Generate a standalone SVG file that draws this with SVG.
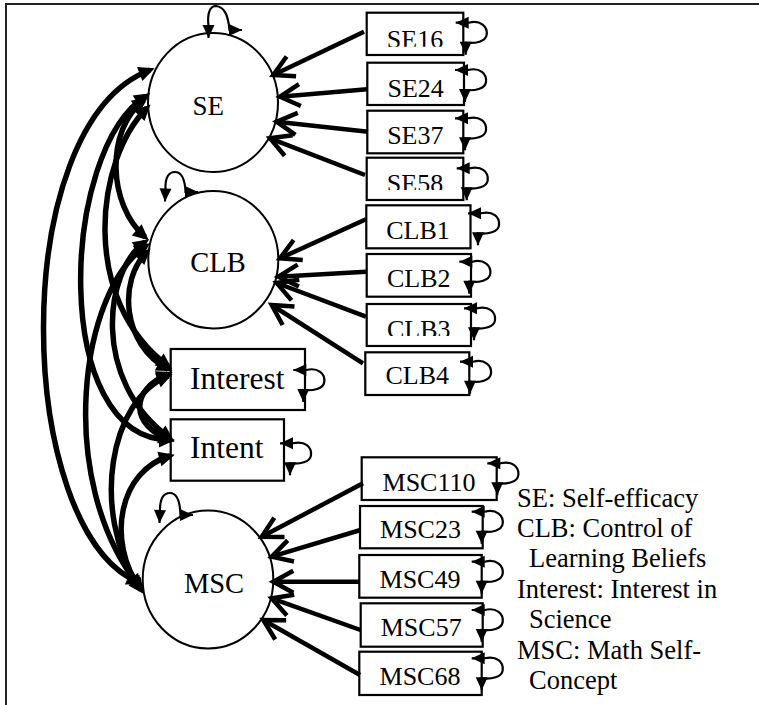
<svg xmlns="http://www.w3.org/2000/svg" width="759" height="705" viewBox="0 0 759 705">
  <style>
    .lat{fill:none;stroke:#000;stroke-width:2}
    .box{fill:#fff;stroke:#000;stroke-width:2.2}
    .txt{font-family:"Liberation Serif","Times New Roman",serif;fill:#000}
    .ind{font-size:26px;text-anchor:middle}
    .load{fill:none;stroke:#000;stroke-width:4.5;marker-end:url(#vhead)}
    .cov{fill:none;stroke:#000;stroke-width:5.5;marker-start:url(#solid);marker-end:url(#solid)}
    .loop{fill:none;stroke:#000;stroke-width:2.2;marker-start:url(#small);marker-end:url(#small)}
    .legend{font-size:26.5px}
    .frame{fill:none;stroke:#222;stroke-width:2}
  </style>
  <defs>
    <!-- open V head for loadings -->
    <marker id="vhead" markerUnits="userSpaceOnUse" markerWidth="30" markerHeight="30" refX="20" refY="11" orient="auto" overflow="visible">
      <path d="M0,0 L20,11 L0,22" fill="none" stroke="#000" stroke-width="4.5"/>
    </marker>
    <!-- solid head for covariances -->
    <marker id="solid" markerUnits="userSpaceOnUse" markerWidth="17" markerHeight="15" refX="11" refY="7.5" orient="auto-start-reverse" overflow="visible">
      <path d="M0,0 L16,7.5 L0,15 z" fill="#000"/>
    </marker>
    <!-- small head for variance loops -->
    <marker id="small" markerUnits="userSpaceOnUse" markerWidth="14" markerHeight="12" refX="13" refY="6" orient="auto-start-reverse" overflow="visible">
      <path d="M0,0 L13,6 L0,12 z" fill="#000"/>
    </marker>
    <!-- error variance loop, origin at the upper arrow tip -->
    <path id="eloop" class="loop" d="M0,0 L13,0 C25,-3 32,4 31,12 C30,19 20,21 10,20 L10,32"/>
    <clipPath id="clipSE16"><rect x="360" y="10" width="110" height="36.7"/></clipPath>
    <clipPath id="clipSE58"><rect x="360" y="155" width="110" height="35"/></clipPath>
    <clipPath id="clipCLB3"><rect x="360" y="300" width="115" height="36"/></clipPath>
  </defs>

  <!-- frame -->
  <path class="frame" d="M5,4 H759 M6,4 V705"/>

  <!-- latent factors -->
  <g id="SE">
    <ellipse class="lat" cx="213" cy="102.5" rx="65" ry="69.5"/>
    <text class="txt" x="208.3" y="115" font-size="27" text-anchor="middle">SE</text>
    <path class="loop" d="M208.5,38 L208.5,26 C207,13 210,6 216,6 C224,7 228,14 229.5,30 L242,30"/>
  </g>
  <g id="CLB">
    <ellipse class="lat" cx="213.3" cy="259.7" rx="65" ry="68.7"/>
    <text class="txt" x="218" y="271.7" font-size="28.5" text-anchor="middle">CLB</text>
    <path class="loop" d="M165,201.5 L165.5,189 C165,177 169,172 175,172 C182,172 185,180 185.5,192 L198,192"/>
  </g>
  <g id="MSC">
    <ellipse class="lat" cx="208" cy="579.5" rx="65.3" ry="69"/>
    <text class="txt" x="214" y="592.7" font-size="28.5" text-anchor="middle">MSC</text>
    <path class="loop" d="M159.5,523 L160,510 C160,497 164,493 170,493 C177,493 180,501 180.5,515 L193,515"/>
  </g>

  <!-- observed single-item constructs -->
  <g id="Interest">
    <rect class="box" x="170.7" y="349" width="134.3" height="61"/>
    <text class="txt" x="190" y="389.3" font-size="31.5">Interest</text>
    <use href="#eloop" x="293.3" y="370"/>
  </g>
  <g id="Intent">
    <rect class="box" x="170.7" y="419.3" width="113.3" height="61.4"/>
    <text class="txt" x="190" y="458.3" font-size="31.5">Intent</text>
    <use href="#eloop" x="280" y="443.3"/>
  </g>

  <!-- SE indicators -->
  <g id="SE16">
    <rect class="box" x="366.7" y="12.7" width="96.6" height="42.3"/>
    <text class="txt ind" x="415" y="47.7" clip-path="url(#clipSE16)">SE16</text>
    <use href="#eloop" x="455.7" y="22.7"/>
  </g>
  <g id="SE24">
    <rect class="box" x="367.3" y="62.7" width="96.7" height="42.3"/>
    <text class="txt ind" x="415.7" y="96.7">SE24</text>
    <use href="#eloop" x="455" y="70"/>
  </g>
  <g id="SE37">
    <rect class="box" x="367.3" y="110.7" width="96" height="42.6"/>
    <text class="txt ind" x="415.3" y="144">SE37</text>
    <use href="#eloop" x="455" y="118.3"/>
  </g>
  <g id="SE58">
    <rect class="box" x="366.7" y="157.7" width="96.6" height="42.3"/>
    <text class="txt ind" x="415" y="191.5" clip-path="url(#clipSE58)">SE58</text>
    <use href="#eloop" x="456.7" y="168.3"/>
  </g>

  <!-- CLB indicators -->
  <g id="CLB1">
    <rect class="box" x="366.3" y="205.3" width="104.2" height="43"/>
    <text class="txt ind" x="418" y="238.5">CLB1</text>
    <use href="#eloop" x="468" y="213.3"/>
  </g>
  <g id="CLB2">
    <rect class="box" x="366.7" y="254" width="104.3" height="42.7"/>
    <text class="txt ind" x="418.8" y="287.3">CLB2</text>
    <use href="#eloop" x="459.3" y="261.7"/>
  </g>
  <g id="CLB3">
    <rect class="box" x="366.7" y="304" width="104.3" height="42"/>
    <text class="txt ind" x="418.8" y="337.5" clip-path="url(#clipCLB3)">CLB3</text>
    <use href="#eloop" x="464" y="308.3"/>
  </g>
  <g id="CLB4">
    <rect class="box" x="365.3" y="352.3" width="104" height="42.7"/>
    <text class="txt ind" x="417.3" y="384">CLB4</text>
    <use href="#eloop" x="460" y="361.7"/>
  </g>

  <!-- MSC indicators -->
  <g id="MSC110">
    <rect class="box" x="361.7" y="457.3" width="135" height="42.7"/>
    <text class="txt ind" x="429" y="491">MSC110</text>
    <use href="#eloop" x="487.3" y="463.3"/>
  </g>
  <g id="MSC23">
    <rect class="box" x="360" y="506" width="122.7" height="42.3"/>
    <text class="txt ind" x="420.5" y="538.3">MSC23</text>
    <use href="#eloop" x="471.7" y="511.7"/>
  </g>
  <g id="MSC49">
    <rect class="box" x="359.3" y="555" width="122.4" height="42.7"/>
    <text class="txt ind" x="420" y="587.7">MSC49</text>
    <use href="#eloop" x="471.7" y="561.7"/>
  </g>
  <g id="MSC57">
    <rect class="box" x="360.7" y="603.3" width="122" height="43.4"/>
    <text class="txt ind" x="421.2" y="636">MSC57</text>
    <use href="#eloop" x="471.7" y="610"/>
  </g>
  <g id="MSC68">
    <rect class="box" x="359.3" y="651.7" width="122.4" height="43.3"/>
    <text class="txt ind" x="420" y="685">MSC68</text>
    <use href="#eloop" x="471.7" y="658.3"/>
  </g>

  <!-- legend -->
  <g id="legend" class="txt legend">
    <text x="517" y="507.3">SE: Self-efficacy</text>
    <text x="517" y="536.7">CLB: Control of</text>
    <text x="529" y="567.3">Learning Beliefs</text>
    <text x="517" y="597.7">Interest: Interest in</text>
    <text x="529" y="628.3">Science</text>
    <text x="517" y="659.3">MSC: Math Self-</text>
    <text x="529" y="689.3">Concept</text>
  </g>

  <g id="connectors">
    <!-- factor loadings -->
    <path class="load" d="M364,31.7 L273.3,75"/>
    <path class="load" d="M367,89.3 L280,96.7"/>
    <path class="load" d="M368,131.7 L276.7,121.7"/>
    <path class="load" d="M365,175 L270,138.3"/>
    <path class="load" d="M366,219.3 L280,258.3"/>
    <path class="load" d="M366,271.7 L278.3,276.7"/>
    <path class="load" d="M366,316.7 L276.7,283"/>
    <path class="load" d="M363,363.3 L271.7,305"/>
    <path class="load" d="M363,483.3 L261.7,536.7"/>
    <path class="load" d="M360.5,530 L271.7,556.7"/>
    <path class="load" d="M359.5,581.7 L273.3,581.7"/>
    <path class="load" d="M360.5,630 L271.7,598.3"/>
    <path class="load" d="M360,675 L263.3,620"/>
    <!-- covariances -->
    <path class="cov" d="M150,70 C5,125 15,530 138,582"/>
    <path class="cov" d="M146,96 C60,150 50,440 170,440"/>
    <path class="cov" d="M144,100 C105,130 108,205 145,237"/>
    <path class="cov" d="M147,108 C95,160 80,300 168,366"/>
    <path class="cov" d="M146,246 C80,290 55,480 139,586"/>
    <path class="cov" d="M147,252 C118,280 122,345 168,369"/>
    <path class="cov" d="M168,374 C130,390 130,425 170,440"/>
    <path class="cov" d="M168,376 C110,400 90,510 139,588"/>
    <path class="cov" d="M170,456 C120,470 105,540 141,590"/>
    <path class="cov" d="M145,242 C105,270 90,380 170,438"/>
  </g>
</svg>
